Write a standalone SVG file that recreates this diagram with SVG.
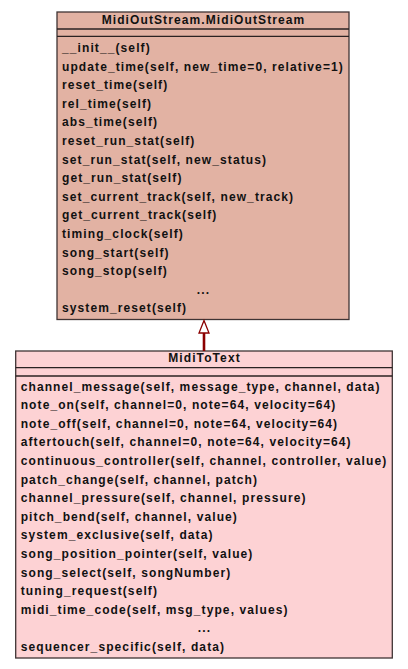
<svg xmlns="http://www.w3.org/2000/svg" width="408" height="669" viewBox="0 0 408 669">
<style>
  .box { stroke: #3f3434; stroke-width: 1.3; }
  .sep { stroke: #2a2222; stroke-width: 1.3; }
  .t { font-family: "Liberation Sans", Arial, sans-serif; font-weight: bold; font-size: 12px; letter-spacing: 1.1px; fill: #111; }
  .title { text-anchor: middle; }
  .dots { text-anchor: middle; }
</style>
<rect width="408" height="669" fill="#ffffff"/>
<g id="MidiOutStream">
  <rect class="box" x="57" y="12" width="292" height="307.5" fill="#e2b2a3"/>
  <line class="sep" x1="57" y1="29" x2="349" y2="29"/>
  <line class="sep" x1="57" y1="36.3" x2="349" y2="36.3"/>
  <text class="t title" x="203.5" y="23.5">MidiOutStream.MidiOutStream</text>
  <text class="t" x="62" y="52">__init__(self)</text>
  <text class="t" x="62" y="70.6">update_time(self, new_time=0, relative=1)</text>
  <text class="t" x="62" y="89.2">reset_time(self)</text>
  <text class="t" x="62" y="107.8">rel_time(self)</text>
  <text class="t" x="62" y="126.4">abs_time(self)</text>
  <text class="t" x="62" y="145">reset_run_stat(self)</text>
  <text class="t" x="62" y="163.6">set_run_stat(self, new_status)</text>
  <text class="t" x="62" y="182.2">get_run_stat(self)</text>
  <text class="t" x="62" y="200.8">set_current_track(self, new_track)</text>
  <text class="t" x="62" y="219.4">get_current_track(self)</text>
  <text class="t" x="62" y="238">timing_clock(self)</text>
  <text class="t" x="62" y="256.6">song_start(self)</text>
  <text class="t" x="62" y="275.2">song_stop(self)</text>
  <text class="t dots" x="203.5" y="293.8">...</text>
  <text class="t" x="62" y="312.4">system_reset(self)</text>
</g>
<g id="MidiToText">
  <rect class="box" x="15.7" y="351" width="376.6" height="307" fill="#fdd2d4"/>
  <line class="sep" x1="15.7" y1="367.6" x2="392.3" y2="367.6"/>
  <line class="sep" x1="15.7" y1="376" x2="392.3" y2="376"/>
  <text class="t title" x="204.5" y="362">MidiToText</text>
  <text class="t" x="20.7" y="390.5">channel_message(self, message_type, channel, data)</text>
  <text class="t" x="20.7" y="409.1">note_on(self, channel=0, note=64, velocity=64)</text>
  <text class="t" x="20.7" y="427.7">note_off(self, channel=0, note=64, velocity=64)</text>
  <text class="t" x="20.7" y="446.3">aftertouch(self, channel=0, note=64, velocity=64)</text>
  <text class="t" x="20.7" y="464.9">continuous_controller(self, channel, controller, value)</text>
  <text class="t" x="20.7" y="483.5">patch_change(self, channel, patch)</text>
  <text class="t" x="20.7" y="502.1">channel_pressure(self, channel, pressure)</text>
  <text class="t" x="20.7" y="520.7">pitch_bend(self, channel, value)</text>
  <text class="t" x="20.7" y="539.3">system_exclusive(self, data)</text>
  <text class="t" x="20.7" y="557.9">song_position_pointer(self, value)</text>
  <text class="t" x="20.7" y="576.5">song_select(self, songNumber)</text>
  <text class="t" x="20.7" y="595.1">tuning_request(self)</text>
  <text class="t" x="20.7" y="613.7">midi_time_code(self, msg_type, values)</text>
  <text class="t dots" x="204.5" y="632.3">...</text>
  <text class="t" x="20.7" y="650.9">sequencer_specific(self, data)</text>
</g>
<g id="connectors">
  <line x1="204" y1="333" x2="204" y2="351" stroke="#8b0000" stroke-width="2.6"/>
  <polygon points="204,320.5 199,333 209,333" fill="#ffffff" stroke="#8b0000" stroke-width="1.3"/>
</g>
</svg>
